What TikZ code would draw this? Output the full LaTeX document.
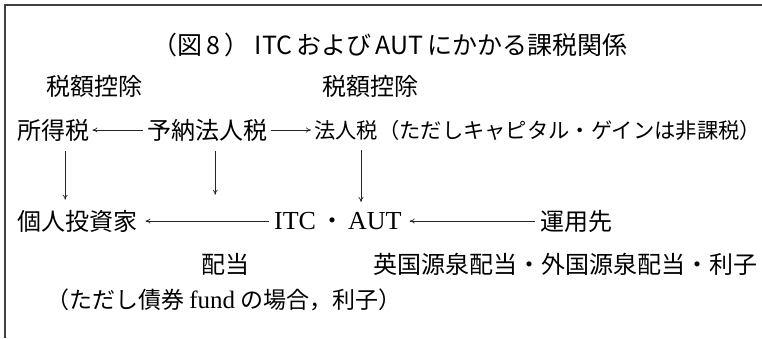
\documentclass[tikz,border=0pt]{standalone}
\usepackage{fontspec}
\setmainfont{Liberation Serif}
\newfontfamily\jp{Noto Sans CJK JP}
\usetikzlibrary{arrows.meta}
\tikzset{
  txt/.style={inner sep=0pt, anchor=west, font=\jp\fontsize{24}{27}\selectfont},
  ttl/.style={inner sep=0pt, font=\jp\fontsize{25}{28}\selectfont},
  arr/.style={-{To[length=5pt,width=5pt]}, line width=0.7pt, black!85},
  frame/.style={line width=1.3pt, black!75}
}
\begin{document}
\begin{tikzpicture}[x=1pt,y=-1pt]
\useasboundingbox (0,0) rectangle (762,338);
\coordinate (tl) at (5,5);
\coordinate (tr) at (762,5);
\coordinate (bl) at (5,338);
\draw[frame] (tr) -- (tl) -- (bl);

\node[ttl] (title) at (390,45) {（図\,8\,）\ ITC\,および\,AUT\,にかかる課税関係};

\node[txt] (k1) at (46,86) {税額控除};
\node[txt] (k2) at (322,86) {税額控除};

\node[txt] (sho) at (17,130) {所得税};
\node[txt] (yono) at (147,130) {予納法人税};
\node[txt, font=\jp\fontsize{21.3}{26}\selectfont] (hoj) at (314,130) {法人税（ただしキャピタル・ゲインは非課税）};

\node[txt] (inv) at (17,221) {個人投資家};
\node[txt] (itc) at (274,221) {{\rmfamily\fontsize{26}{28}\selectfont ITC}\,・\,{\rmfamily\fontsize{26}{28}\selectfont AUT}};
\node[txt] (unyo) at (540,221) {運用先};

\node[txt] (hai) at (201,264) {配当};
\node[txt] (eik) at (373,264) {英国源泉配当・外国源泉配当・利子};
\node[txt, font=\jp\fontsize{23}{26}\selectfont] (tada) at (46,300) {（ただし債券 {\rmfamily\fontsize{25}{27}\selectfont fund} の場合，利子）};

% row 1 horizontal arrows
\draw[arr, shorten >=3pt, shorten <=4pt] (yono.west) -- (sho.east);
\draw[arr, shorten >=3pt, shorten <=4pt] (yono.east) -- (hoj.west);
% row 2 horizontal arrows
\draw[arr, shorten >=8pt, shorten <=5pt] (itc.west) -- (inv.east);
\draw[arr, shorten >=8pt, shorten <=5pt] (unyo.west) -- (itc.east);
% vertical arrows
\coordinate (v1) at ([xshift=12pt]sho.south);
\coordinate (v2) at ([xshift=8pt]yono.south);
\coordinate (v3) at (361,0 |- hoj.south);
\draw[arr, shorten <=10pt, shorten >=10pt] (v1) -- (v1 |- inv.north);
\draw[arr, shorten <=10pt, shorten >=15pt] (v2) -- (v2 |- inv.north);
\draw[arr, shorten <=10pt, shorten >=10pt] (v3) -- (v3 |- itc.north);
\end{tikzpicture}
\end{document}
